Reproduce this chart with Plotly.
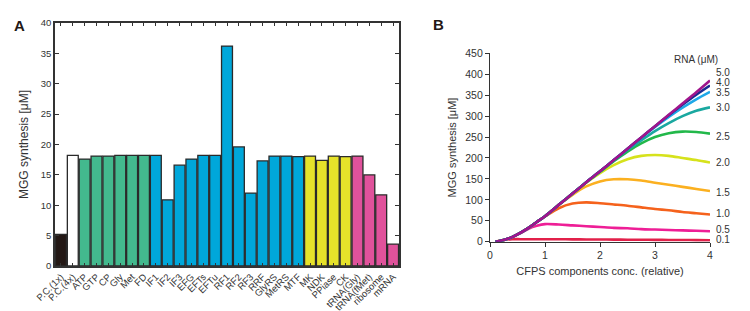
import plotly.graph_objects as go

# ---------------- Panel A data ----------------
categories = ["P.C.(1x)", "P.C.(4x)", "ATP", "GTP", "CP", "Gly", "Met", "FD",
              "IF1", "IF2", "IF3", "EFG", "EFTs", "EFTu", "RF1", "RF2", "RF3",
              "RRF", "GlyRS", "MetRS", "MTF", "MK", "NDK", "PPiase", "CK",
              "tRNA(Gly)", "tRNA(fMet)", "ribosome", "mRNA"]
mgg_values = [5.2, 18.2, 17.6, 18.1, 18.1, 18.2, 18.2, 18.2,
              18.2, 10.9, 16.6, 17.6, 18.2, 18.2, 36.2, 19.6, 12.0,
              17.3, 18.1, 18.1, 18.0, 18.1, 17.4, 18.1, 18.0,
              18.1, 15.0, 11.7, 3.6]
groups = ["pc1", "pc4"] + ["energy"] * 6 + ["factor"] * 13 + ["enzyme"] * 4 + ["rna"] * 4

group_colors = {"pc1": "#231815", "pc4": "#ffffff", "energy": "#43b98e",
                "factor": "#00a7da", "enzyme": "#e6e22a", "rna": "#e0529b"}

# ---------------- Panel B data ----------------
cfps_conc = [0.1, 0.25, 0.4, 0.55, 0.7, 0.85, 1.0, 1.25, 1.5, 1.75, 2.0,
             2.25, 2.5, 2.75, 3.0, 3.25, 3.5, 3.75, 4.0]
rna_levels = ["0.1", "0.5", "1.0", "1.5", "2.0", "2.5", "3.0", "3.5", "4.0", "5.0"]
mgg_rna_01 = [0, 4, 6, 6, 6, 6, 6, 5.8, 5.6, 5.4, 5.2, 5.0, 4.8, 4.6, 4.4, 4.2, 4.0, 3.8, 3.5]
mgg_rna_05 = [0, 4, 11, 20, 31, 38, 42, 41, 39, 37, 35, 33, 32, 30, 29, 28, 27, 26, 25]
mgg_rna_10 = [0, 4, 11, 21, 33, 47, 60, 80, 91, 94, 92, 89, 86, 82, 78, 75, 71, 68, 65]
mgg_rna_15 = [0, 4, 11, 21, 33, 47, 61, 88, 112, 132, 144, 149, 149, 146, 141, 136, 131, 126, 121]
mgg_rna_20 = [0, 4, 11, 21, 33, 47, 61, 88, 115, 141, 164, 183, 197, 205, 207, 205, 200, 195, 189]
mgg_rna_25 = [0, 4, 11, 21, 33, 47, 61, 88, 115, 142, 167, 192, 215, 235, 250, 259, 263, 262, 258]
mgg_rna_30 = [0, 4, 11, 21, 33, 47, 61, 88, 115, 142, 168, 194, 219, 242, 264, 283, 300, 313, 321]
mgg_rna_35 = [0, 4, 11, 21, 33, 47, 61, 88, 115, 142, 168, 195, 222, 248, 274, 298, 320, 340, 358]
mgg_rna_40 = [0, 4, 11, 21, 33, 47, 61, 88, 115, 142, 168, 195, 222, 249, 276, 302, 327, 351, 373]
mgg_rna_50 = [0, 4, 11, 21, 33, 47, 61, 88, 115, 142, 168, 195, 222, 249, 276, 303, 330, 357, 385]

series_b = [mgg_rna_01, mgg_rna_05, mgg_rna_10, mgg_rna_15, mgg_rna_20,
            mgg_rna_25, mgg_rna_30, mgg_rna_35, mgg_rna_40, mgg_rna_50]
line_colors = ["#e2204a", "#ee1e96", "#f5621c", "#fbb020", "#d6e21c",
               "#22b84a", "#1aa8a0", "#1ea8e8", "#1b2a8f", "#a0158c"]
# label placement (y in data units) for the right-hand RNA labels
label_y = [5, 30, 68, 117, 189, 251, 321, 357, 381, 404]

FONT = "Liberation Sans, Arial, sans-serif"
AXC = "#333333"

# The page body has an 8px margin, so the figure is drawn 8px in from the
# top-left corner of the 750x311 window; size it to fill the remaining area.
OFF = 8
W, H = 750 - OFF, 311 - OFF


def px(xp):
    return (xp - OFF) / W


def py(yp):
    return 1 - (yp - OFF) / H


fig = go.Figure()

fig.add_trace(go.Bar(
    x=categories, y=mgg_values,
    marker=dict(color=[group_colors[g] for g in groups],
                line=dict(color="#2a2a2a", width=1.3)),
    xaxis="x", yaxis="y", showlegend=False,
))

for vals, col in zip(series_b, line_colors):
    fig.add_trace(go.Scatter(
        x=cfps_conc, y=vals, mode="lines",
        line=dict(color=col, width=2.6, shape="spline", smoothing=0.8),
        xaxis="x2", yaxis="y2", showlegend=False,
    ))

annotations = [
    dict(text="<b>A</b>", x=px(11.5), y=py(15), xref="paper", yref="paper",
         showarrow=False, font=dict(size=15, color="#231815", family=FONT)),
    dict(text="<b>B</b>", x=px(438), y=py(14), xref="paper", yref="paper",
         showarrow=False, font=dict(size=15, color="#231815", family=FONT)),
    dict(text="RNA (μM)", x=1.045, y=436, xref="x2 domain", yref="y2", showarrow=False,
         font=dict(size=10, color="#333333", family=FONT)),
]
for lab, ly in zip(rna_levels, label_y):
    annotations.append(dict(text=lab, x=1.02, y=ly, xref="x2 domain", yref="y2",
                            xanchor="left", showarrow=False,
                            font=dict(size=10, color="#333333", family=FONT)))

fig.update_layout(
    width=W, height=H, autosize=False,
    margin=dict(l=0, r=0, t=0, b=0, autoexpand=False),
    paper_bgcolor="white", plot_bgcolor="white",
    font=dict(family=FONT, color="#333333"),
    bargap=0.08,
    xaxis=dict(domain=[px(55), px(399)], anchor="y", automargin=False,
               showline=True, linecolor=AXC, linewidth=1.5, mirror="ticks",
               ticks="inside", ticklen=3, tickcolor=AXC, tickwidth=1.2,
               tickangle=-45, tickfont=dict(size=9.5, family=FONT, color="#333333"),
               showgrid=False, zeroline=False),
    yaxis=dict(domain=[py(266), py(23)], anchor="x", automargin=False,
               range=[0, 40], dtick=5,
               showline=True, linecolor=AXC, linewidth=1.5, mirror="ticks",
               ticks="inside", ticklen=4, tickcolor=AXC, tickwidth=1.2,
               tickfont=dict(size=9.5, family=FONT, color="#333333"),
               showgrid=False, zeroline=False,
               title=dict(text="MGG synthesis [μM]", standoff=10,
                          font=dict(size=12, family=FONT, color="#333333"))),
    xaxis2=dict(domain=[px(490), px(710)], anchor="y2", automargin=False,
                range=[0, 4], dtick=1,
                showline=True, linecolor=AXC, linewidth=1.2,
                ticks="outside", ticklen=4, tickcolor=AXC,
                tickfont=dict(size=10.5, family=FONT, color="#333333"),
                showgrid=False, zeroline=False,
                title=dict(text="CFPS components conc. (relative)", standoff=6,
                           font=dict(size=11, family=FONT, color="#333333"))),
    yaxis2=dict(domain=[py(241.7), py(53.3)], anchor="x2", automargin=False,
                range=[0, 450], dtick=50,
                showline=True, linecolor=AXC, linewidth=1.2,
                ticks="outside", ticklen=4, tickcolor=AXC,
                tickfont=dict(size=10.5, family=FONT, color="#333333"),
                showgrid=False, zeroline=False,
                title=dict(text="MGG synthesis [μM]", standoff=6,
                           font=dict(size=11, family=FONT, color="#333333"))),
    annotations=annotations,
)

fig.write_html("out.html")
